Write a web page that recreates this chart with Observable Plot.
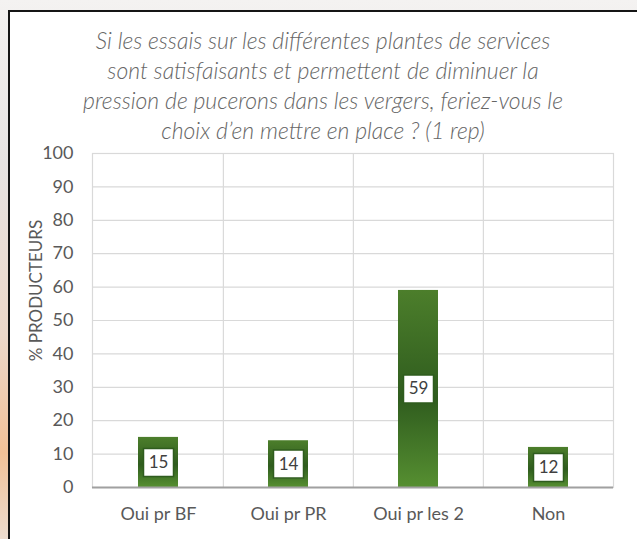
<!DOCTYPE html>
<html><head><meta charset="utf-8">
<script src="https://cdn.jsdelivr.net/npm/d3@7"></script>
<script src="https://cdn.jsdelivr.net/npm/@observablehq/plot@0.6"></script>
<style>
html,body{margin:0;padding:0}
body{width:637px;height:539px;overflow:hidden;position:relative;font-family:Lato,"Open Sans",sans-serif;
 background:linear-gradient(180deg,#f4f2f1 0%,#e6e3e2 30%,#ecd8ca 62%,#f2c197 84%,#ecdccf 100%);}
#frame{position:absolute;left:8px;top:10px;width:640px;height:540px;border-top:2px solid #151515;border-left:2px solid #151515;background:#fff}
#title{position:absolute;left:0;top:25px;width:646px;text-align:center;font-style:italic;font-weight:300;font-size:23px;line-height:30px;color:#666}
#chart{position:absolute;left:0;top:140px}
</style></head>
<body>
<div id="frame"></div>
<div id="title">Si les essais sur les différentes plantes de services<br>sont satisfaisants et permettent de diminuer la<br>pression de pucerons dans les vergers, feriez-vous le<br>choix d’en mettre en place ? (1 rep)</div>
<div id="chart"></div>
<script>
const categories = ["Oui pr BF", "Oui pr PR", "Oui pr les 2", "Non"];
const values = [15, 14, 59, 12];
const yTicks = [0, 10, 20, 30, 40, 50, 60, 70, 80, 90, 100];
const yLabel = "% PRODUCTEURS";

const data = categories.map((c, i) => ({cat: c, v: values[i]}));

const W = 637, H = 399, ML = 92, MR = 24, MT = 13, MB = 52;
const band = (W - ML - MR) / categories.length;

const boxSymbol = {draw(ctx) { ctx.rect(-15, -14, 30, 28); }};

const defs = () => {
  const g = d3.create("svg:g");
  const lg = g.append("defs").append("linearGradient")
    .attr("id", "barGrad").attr("x1", 0).attr("y1", 0).attr("x2", 0).attr("y2", 1);
  lg.append("stop").attr("offset", "0%").attr("stop-color", "#4c7e2b");
  lg.append("stop").attr("offset", "55%").attr("stop-color", "#2f5c1e");
  lg.append("stop").attr("offset", "100%").attr("stop-color", "#568f31");
  return g.node();
};

const chart = Plot.plot({
  width: W, height: H,
  marginLeft: ML, marginRight: MR, marginTop: MT, marginBottom: MB,
  style: {fontFamily: "Lato, 'Open Sans', sans-serif", fontSize: "18px", color: "#595959", background: "transparent", overflow: "visible"},
  x: {domain: categories, padding: 0, label: null, tickSize: 0, tickPadding: 20},
  y: {domain: [0, 100], ticks: yTicks, label: null, tickSize: 0, tickPadding: 19},
  marks: [
    defs,
    Plot.gridY(yTicks, {stroke: "#d9d9d9", strokeOpacity: 1, strokeWidth: 1.2}),
    Plot.ruleX(categories.slice(1), {x: d => d, dx: -band / 2, stroke: "#d9d9d9", strokeWidth: 1.2}),
    Plot.frame({stroke: "#d9d9d9", strokeWidth: 1.2}),
    Plot.barY(data, {x: "cat", y: "v", fill: "url(#barGrad)", insetLeft: 45, insetRight: 45}),
    Plot.ruleY([0], {stroke: "#a0a0a0", strokeWidth: 2}),
    Plot.dot(data, {x: "cat", y: d => d.v / 2, symbol: boxSymbol, fill: "white", stroke: "#2f5c1e", strokeWidth: 1.5}),
    Plot.text(data, {x: "cat", y: d => d.v / 2, text: d => String(d.v), fill: "#404040", fontSize: 17}),
    Plot.text([yLabel], {frameAnchor: "left", textAnchor: "middle", dx: -56, dy: -30, rotate: -90, fill: "#595959", fontSize: 17})
  ]
});
document.getElementById("chart").appendChild(chart);
</script>
</body></html>
